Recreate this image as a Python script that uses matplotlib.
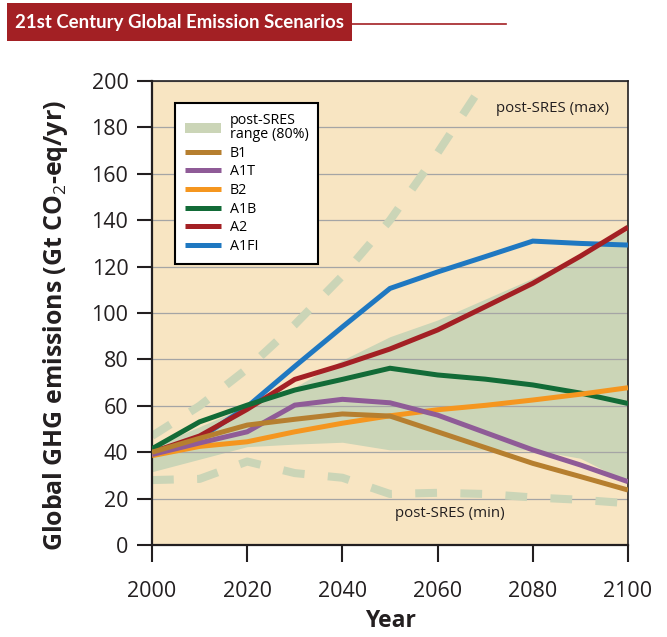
import numpy as np
import matplotlib
matplotlib.use('Agg')
import matplotlib.pyplot as plt
from matplotlib.patches import Rectangle, Patch
from matplotlib.lines import Line2D

plt.rcParams['font.family'] = ['Open Sans', 'DejaVu Sans']
plt.rcParams['mathtext.fontset'] = 'custom'
plt.rcParams['mathtext.rm'] = 'Open Sans'

# data (Gt CO2-eq/yr)
years = [2000, 2010, 2020, 2030, 2040, 2050, 2060, 2070, 2080, 2090, 2100]
b1 = [40, 46, 51.7, 54.2, 56.5, 55.6, 48.8, 42, 35.2, 29.5, 23.7]
a1t = [39, 44, 48.8, 60.3, 62.8, 61.3, 56, 48.5, 41, 34.5, 27.3]
b2 = [38.5, 42.5, 44.5, 48.8, 52.5, 55.7, 58.3, 60.2, 62.5, 65, 67.8]
a1b = [41.5, 53.1, 60.3, 66.8, 71.4, 76.2, 73.3, 71.5, 69, 65.5, 61]
a2 = [40, 47, 58.5, 71.4, 77.6, 84.5, 92.7, 102.7, 112.8, 124.5, 137]
a1fi = [40, 46, 59.6, 77, 94, 110.6, 117.7, 124.3, 131, 130, 129.3]
range_hi = [42.4, 51, 60, 68, 79.7, 89.8, 97, 106, 115, 125, 135.8]
range_lo = [31.6, 37, 42.4, 43.5, 44.3, 41, 41, 41, 41, 37.4, 27]

max_years = [2000, 2010, 2020, 2030, 2040, 2050, 2060, 2069]
sres_max = [47, 60, 76, 95, 116, 140, 169, 197]
sres_min = [28, 28.5, 36, 31, 29, 22, 22.5, 22, 20.5, 19.5, 18]

names = ['B1', 'A1T', 'B2', 'A1B', 'A2', 'A1FI']
series = [b1, a1t, b2, a1b, a2, a1fi]
colors = ['#b67f2f', '#8f5b97', '#f5961f', '#126b37', '#a32024', '#1f78c1']

bg = '#f8e5c2'
band = '#cbd5b7'
red = '#a32024'
ink = '#231f20'

fig = plt.figure(figsize=(6.67, 6.37), dpi=100)
ax = fig.add_axes([0.2279, 0.1444, 0.7136, 0.7284])
ax.set_facecolor(bg)

ax.fill_between(years, range_lo, range_hi, color=band, lw=0, zorder=1)
ax.plot(max_years, sres_max, color=band, lw=5.8, dashes=(2.7, 2.9), zorder=2)
ax.plot(years, sres_min, color=band, lw=5.8, dashes=(2.7, 2.9), zorder=2)

# legend order is B1..A1FI, drawing order is reversed (B1 on top)
for i in range(len(names) - 1, -1, -1):
    ax.plot(years, series[i], color=colors[i], lw=3.6, zorder=3 + (len(names) - i),
            solid_capstyle='butt', solid_joinstyle='miter')

ax.set_xlim(2000, 2100)
ax.set_ylim(0, 200)
ax.set_xticks(range(2000, 2101, 20))
ax.set_yticks(range(0, 201, 20))
ax.set_axisbelow('line')
ax.yaxis.grid(True, color='#a5a5a5', lw=0.9)
ax.xaxis.grid(False)

for s in ['left', 'bottom']:
    ax.spines[s].set_linewidth(1.6)
for s in ['top', 'right']:
    ax.spines[s].set_linewidth(1.2)
for s in ax.spines.values():
    s.set_color(ink)

ax.tick_params(axis='y', length=11, width=1.5, pad=6, labelsize=15.5, colors=ink)
ax.tick_params(axis='x', length=12, width=1.5, pad=14, labelsize=15.5, colors=ink)

ax.set_xlabel('Year', fontsize=16.5, fontweight='bold', color=ink, labelpad=5)
ax.set_ylabel('Global GHG emissions (Gt CO$_2$-eq/yr)', fontsize=17.9,
              fontweight='bold', color=ink)
ax.yaxis.set_label_coords(-0.172, 0.472)

ax.text(0.96, 0.94, 'post-SRES (max)', transform=ax.transAxes, fontsize=10.8,
        ha='right', va='center', color=ink)
ax.text(0.626, 0.067, 'post-SRES (min)', transform=ax.transAxes, fontsize=10.8,
        ha='center', va='center', color=ink)

handles = [Patch(facecolor=band, edgecolor='none')]
labels = ['post-SRES\nrange (80%)']
for n, c in zip(names, colors):
    handles.append(Line2D([], [], color=c, lw=3.6, solid_capstyle='butt'))
    labels.append(n)
leg = ax.legend(handles, labels, loc='upper left', bbox_to_anchor=(0.048, 0.953),
                borderaxespad=0, fontsize=10.3, frameon=True, fancybox=False,
                handlelength=2.5, handleheight=0.7, handletextpad=0.62,
                labelspacing=0.25, borderpad=0.7)
leg.get_texts()[0].set_linespacing(0.95)
leg.get_frame().set_edgecolor('black')
leg.get_frame().set_linewidth(1.5)
leg.get_frame().set_facecolor('white')
leg.get_frame().set_alpha(1)
leg.set_zorder(20)

# title bar
fig.patches.append(Rectangle((0.0105, 0.9356), 0.517, 0.0597, transform=fig.transFigure,
                             facecolor=red, edgecolor='none'))
fig.lines.append(Line2D([0.527, 0.759], [0.9623, 0.9623], transform=fig.transFigure,
                        color=red, lw=1.2))
fig.text(0.0225, 0.9645, '21st Century Global Emission Scenarios',
         family=['Lato', 'Open Sans'], fontweight='bold',
         fontsize=13.4, color='white', ha='left', va='center')

fig.savefig('out.png', dpi=100)
